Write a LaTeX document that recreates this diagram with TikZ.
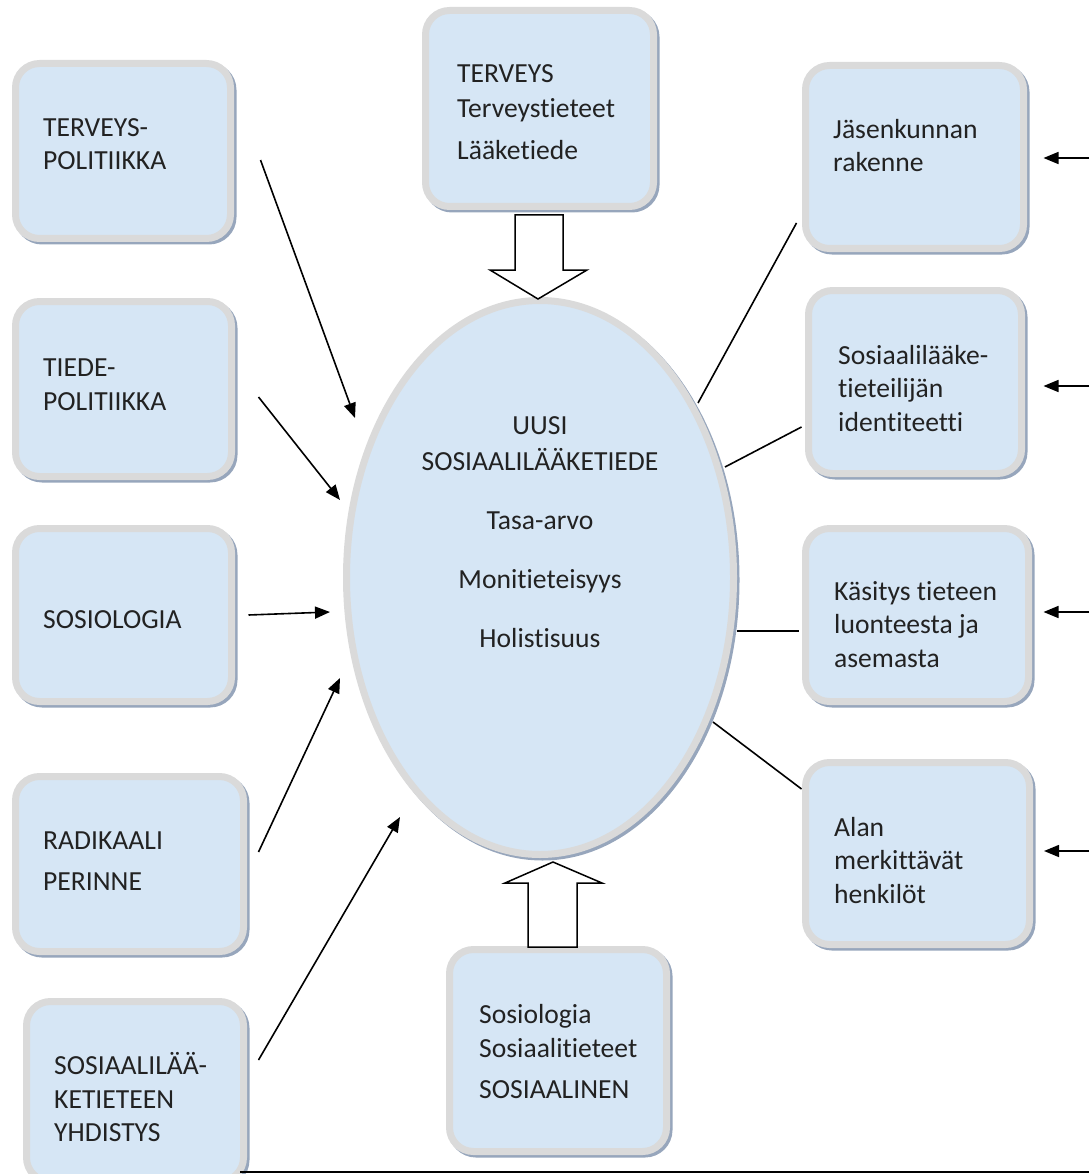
\documentclass[tikz,border=0pt]{standalone}
\usepackage{fontspec}
\setmainfont{Carlito}[Ligatures=NoCommon]
\usetikzlibrary{arrows.meta,calc,shapes.geometric}
\definecolor{boxfill}{HTML}{D6E6F5}
\definecolor{rim}{HTML}{DADADA}
\definecolor{shad}{HTML}{97A6BC}
\definecolor{txtc}{HTML}{222222}
\tikzset{
  rbox/.style={rectangle, rounded corners=24pt, fill=boxfill, draw=rim, line width=7pt, inner sep=0pt,
    preaction={draw=shad, line width=7pt, transform canvas={shift={(2.5pt,-2.5pt)}}}},
  oval/.style={ellipse, fill=boxfill, draw=rim, line width=7pt, inner sep=0pt,
    preaction={draw=shad, line width=7pt, transform canvas={shift={(2.5pt,-2.5pt)}}}},
  lbl/.style={font=\fontsize{27.6pt}{33.3pt}\selectfont, text=txtc, align=left, inner sep=0pt, anchor=base west},
  clbl/.style={font=\fontsize{27.6pt}{33.3pt}\selectfont, text=txtc, align=center, inner sep=0pt, anchor=base},
  arr/.style={line width=1.6pt, -{Triangle[length=15pt,width=12pt]}},
  conn/.style={line width=1.6pt},
  blockarrow/.style={draw=black, fill=white, line width=1.5pt, line join=miter}
}
\begin{document}
\begin{tikzpicture}[x=1pt,y=-1pt]
\useasboundingbox (0,0) rectangle (1089,1174);

% left boxes
\node[rbox, minimum width=215pt, minimum height=175pt] (tp) at (123,151) {};
\node[rbox, minimum width=216pt, minimum height=175pt] (tdp) at (123.5,389) {};
\node[rbox, minimum width=216pt, minimum height=173pt] (sos) at (123.5,615) {};
\node[rbox, minimum width=228pt, minimum height=175pt] (rad) at (129.5,864) {};
\node[rbox, minimum width=217pt, minimum height=180pt] (yhd) at (135,1091.5) {};
% top and bottom boxes
\node[rbox, minimum width=228pt, minimum height=196pt] (top) at (539.5,108.5) {};
\node[rbox, minimum width=217pt, minimum height=202pt] (bot) at (558,1050.5) {};
% right boxes
\node[rbox, minimum width=218pt, minimum height=183pt] (jk) at (914.5,157) {};
\node[rbox, minimum width=213pt, minimum height=183pt] (sl) at (915,382) {};
\node[rbox, minimum width=223pt, minimum height=173pt] (ka) at (917,615) {};
\node[rbox, minimum width=224pt, minimum height=182pt] (al) at (917.5,853.5) {};
% ellipse
\node[oval, minimum width=387pt, minimum height=554pt] (el) at (540,577.5) {};

% texts (anchored at the baseline of the last line)
\node[lbl] (tpT) at (43,170) {TERVEYS-\\POLITIIKKA};
\node[lbl] (tdpT) at (43,410) {TIEDE-\\POLITIIKKA};
\node[lbl] (sosT) at (43,628) {SOSIOLOGIA};
\node[lbl] (radT) at (43,890.5) {RADIKAALI\\[7.4pt]PERINNE};
\node[lbl] (yhdT) at (54,1141.5) {SOSIAALILÄÄ-\\KETIETEEN\\YHDISTYS};
\node[lbl] (topT) at (457,160) {TERVEYS\\[1.7pt]Terveystieteet\\[8.7pt]Lääketiede};
\node[lbl] (botT) at (479,1098) {Sosiologia\\[0.7pt]Sosiaalitieteet\\[7.7pt]SOSIAALINEN};
\node[lbl] (jkT) at (833,172) {Jäsenkunnan\\rakenne};
\node[lbl] (slT) at (838,431) {Sosiaalilääke-\\tieteilijän\\identiteetti};
\node[lbl] (kaT) at (834,667) {Käsitys tieteen\\luonteesta ja\\asemasta};
\node[lbl] (alT) at (834,903) {Alan\\merkittävät\\henkilöt};
\node[clbl] (elT) at (540,647) {UUSI\\[2.7pt]SOSIAALILÄÄKETIEDE\\[25.7pt]Tasa-arvo\\[25.7pt]Monitieteisyys\\[25.7pt]Holistisuus};

% block arrows
\draw[blockarrow] (515,215) -- (563,215) -- (563,270) -- (587,270) -- (538,299) -- (490,270) -- (515,270) -- cycle;
\draw[blockarrow] (528,947) -- (577,947) -- (577,883) -- (602,883) -- (553,862) -- (505,883) -- (528,883) -- cycle;

% left arrows into the ellipse
\draw[arr] ($(tp.east)+(26.5,9)$) -- ($(el.center)+(-185,-159.5)$);
\draw[arr] ($(tdp.east)+(23.5,8)$) -- ($(el.center)+(-200,-77.5)$);
\draw[arr] ($(sos.east)+(13.5,0)$) -- ($(el.center)+(-210,34.5)$);
\draw[arr] ($(rad.east)+(11.5,-12)$) -- ($(el.center)+(-200,100.5)$);
\draw[arr] ($(yhd.east)+(11.5,-31.5)$) -- ($(el.center)+(-140,239.5)$);

% lines ellipse to right boxes
\draw[conn] ($(el.center)+(158,-174.5)$) -- ($(jk.west)+(-5.5,66)$);
\draw[conn] ($(el.center)+(185,-110.5)$) -- ($(sl.west)+(-3.5,45)$);
\draw[conn] ($(el.center)+(197,53.5)$) -- ($(ka.west)+(-3.5,16)$);
\draw[conn] ($(el.center)+(173,144.5)$) -- ($(al.west)+(-0.5,-64.5)$);

% arrows from the right edge
\coordinate (jkin) at (1089,158);
\coordinate (slin) at (1089,386);
\coordinate (kain) at (1089,612);
\coordinate (alin) at (1089,851);
\draw[arr] (jkin) -- ($(jk.east)+(16.5,1)$);
\draw[arr] (slin) -- ($(sl.east)+(18.5,4)$);
\draw[arr] (kain) -- ($(ka.east)+(11.5,-3)$);
\draw[arr] (alin) -- ($(al.east)+(11,-2.5)$);

% bottom rule
\coordinate (rulestart) at (240,1172);
\coordinate (ruleend) at (1089,1172);
\draw[line width=2pt] (rulestart) -- (ruleend);
\end{tikzpicture}
\end{document}
